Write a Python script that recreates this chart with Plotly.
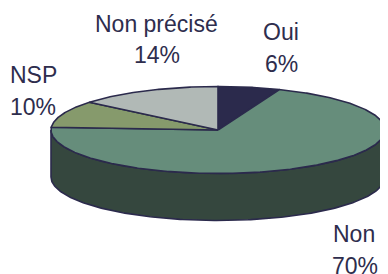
import numpy as np
import plotly.graph_objects as go

# ---- data ----
categories = ["Oui", "Non", "NSP", "Non précisé"]
values = [6, 70, 10, 14]
pct_labels = ["6%", "70%", "10%", "14%"]

# ---- style ----
top_colors = ["#2b2a4c", "#668d7b", "#869a6c", "#b1b9b6"]
side_colors = ["#1c1b33", "#35473e", "#56633f", "#747b78"]
edge = "#2b2a4c"
text_color = "#2e2d4d"

# ---- geometry (page pixel space; page body has an 8px margin) ----
W, H = 388, 274
OFF = 8
cx, cy, rx, ry, depth = 218, 130, 167, 43.5, 47


def pt(theta_deg, dy=0.0):
    t = np.radians(theta_deg)
    return cx + rx * np.sin(t), cy - ry * np.cos(t) + dy


fig = go.Figure()

total = sum(values)
bounds = np.concatenate([[0], np.cumsum(values)]) / total * 360.0

# side walls (front half: 90..270 degrees)
for i in range(len(values)):
    a0, a1 = bounds[i], bounds[i + 1]
    s0, s1 = max(a0, 90), min(a1, 270)
    if s1 <= s0:
        continue
    th = np.linspace(s0, s1, 200)
    xs_t, ys_t = pt(th)
    xs_b, ys_b = pt(th[::-1], depth)
    xs = np.concatenate([xs_t, xs_b, xs_t[:1]])
    ys = np.concatenate([ys_t, ys_b, ys_t[:1]])
    fig.add_trace(go.Scatter(x=xs, y=ys, fill="toself", mode="lines",
                             fillcolor=side_colors[i],
                             line=dict(color=edge, width=1.6),
                             hoverinfo="skip", showlegend=False))

# top faces
for i in range(len(values)):
    a0, a1 = bounds[i], bounds[i + 1]
    th = np.linspace(a0, a1, max(20, int((a1 - a0) * 2)))
    xa, ya = pt(th)
    xs = np.concatenate([[cx], xa, [cx]])
    ys = np.concatenate([[cy], ya, [cy]])
    fig.add_trace(go.Scatter(x=xs, y=ys, fill="toself", mode="lines",
                             fillcolor=top_colors[i],
                             line=dict(color=edge, width=1.6),
                             hoverinfo="skip", showlegend=False,
                             name=categories[i]))

# labels (name line and percent line), pixel positions of text centres
label_pos = {
    "Oui": ((281, 32), (281, 64)),
    "Non": ((354, 234), (355, 266)),
    "NSP": ((33, 75), (33, 107)),
    "Non précisé": ((156, 24), (157, 55)),
}
font = dict(family="Liberation Sans, Arial, sans-serif", size=23, color=text_color)
for cat, pct in zip(categories, pct_labels):
    (x1, y1), (x2, y2) = label_pos[cat]
    fig.add_annotation(x=x1, y=y1, text=cat, showarrow=False, font=font,
                       xanchor="center", yanchor="middle")
    fig.add_annotation(x=x2, y=y2, text=pct, showarrow=False, font=font,
                       xanchor="center", yanchor="middle")

fig.update_layout(
    width=W - OFF, height=H - OFF,
    margin=dict(l=0, r=0, t=0, b=0),
    paper_bgcolor="white", plot_bgcolor="white",
    xaxis=dict(range=[OFF, W], visible=False, fixedrange=True),
    yaxis=dict(range=[H, OFF], visible=False, fixedrange=True),
)

fig.write_html("out.html")
